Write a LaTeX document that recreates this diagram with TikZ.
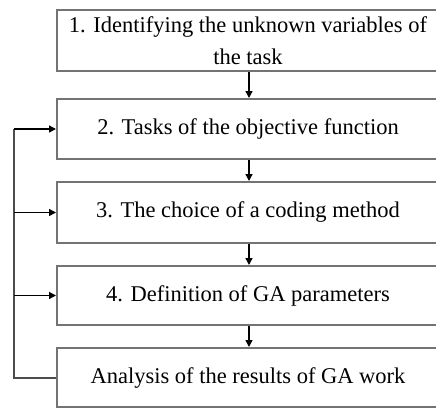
\documentclass[tikz,border=0pt]{standalone}
\usepackage{fontspec}
\setmainfont{Liberation Serif}
\usetikzlibrary{arrows.meta}
\begin{document}
\begin{tikzpicture}[x=1pt,y=1pt,
  stepbox/.style={draw=black!55,line width=2pt,minimum width=382pt,inner sep=0pt,
    align=center,font=\fontsize{22.5}{32}\selectfont,fill=white},
  flow/.style={draw=black,line width=1.4pt,-{Triangle[length=7pt,width=7pt]}},
  fb/.style={draw=black!70,line width=2pt}]
\useasboundingbox (0,0) rectangle (436,-410);
\clip (0,0) rectangle (436,-410);
\node[stepbox,minimum height=61pt] (b1) at (248,-40.5) {\raisebox{-3pt}{1. Identifying the unknown variables of}\\\raisebox{-3pt}{the task}};
\node[stepbox,minimum height=60pt] (b2) at (248,-129) {2. Tasks of the objective function};
\node[stepbox,minimum height=61pt] (b3) at (248,-212.5) {3. The choice of a coding method};
\node[stepbox,minimum height=59pt] (b4) at (248,-295.5) {4. Definition of GA parameters};
\node[stepbox,minimum height=59pt] (b5) at (248,-377.5) {Analysis of the results of GA work};
\draw[flow] (b1.south -| 249,0) -- (b2.north -| 249,0);
\draw[flow] (b2.south -| 249,0) -- (b3.north -| 249,0);
\draw[flow] (b3.south -| 249,0) -- (b4.north -| 249,0);
\draw[flow] (b4.south -| 249,0) -- (b5.north -| 249,0);
\coordinate (l5) at (14,-377.5);
\coordinate (l2) at (14,-129);
\coordinate (l3) at (14,-212.5);
\coordinate (l4) at (14,-295.5);
\draw[fb] (b5.west) -- (l5) -- (l2);
\draw[flow] (l2) -- (b2.west);
\draw[flow] (l3) -- (b3.west);
\draw[flow] (l4) -- (b4.west);
\end{tikzpicture}
\end{document}
